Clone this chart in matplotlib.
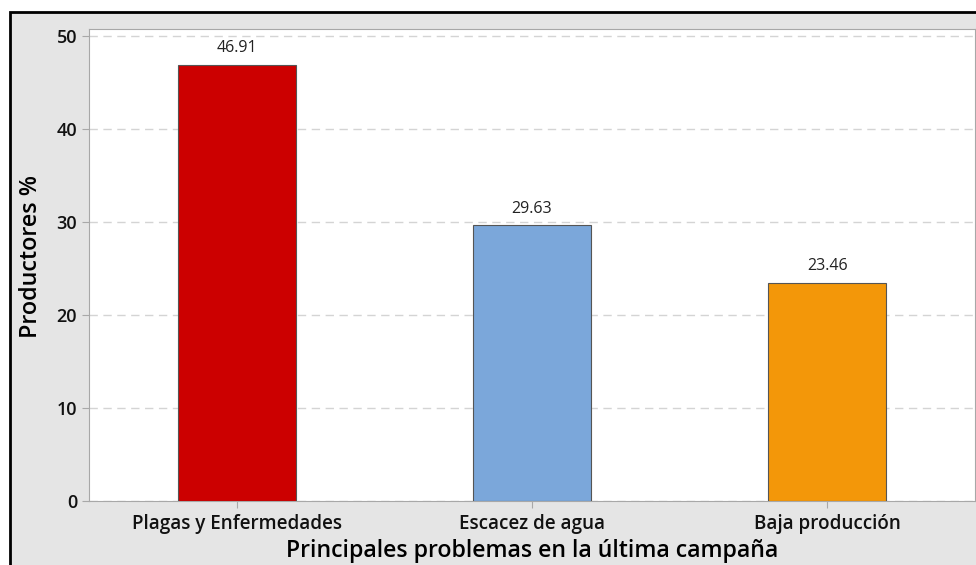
import matplotlib.pyplot as plt
from matplotlib.patches import Rectangle

categories = ["Plagas y Enfermedades", "Escacez de agua", "Baja producción"]
values = [46.91, 29.63, 23.46]
colors = ["#cc0000", "#7ba7da", "#f39709"]
yticks = [0, 10, 20, 30, 40, 50]

plt.rcParams['font.family'] = ['Open Sans', 'DejaVu Sans']

W, H = 976, 565
fig = plt.figure(figsize=(W / 100, H / 100), dpi=100)
fig.patch.set_facecolor("white")

# grey panel with black frame (cut off at right and bottom)
fig.patches.append(Rectangle((10 / W, -0.05), 1.1, 1 - 12 / H + 0.05,
                             transform=fig.transFigure, facecolor="#e5e5e5",
                             edgecolor="black", linewidth=2, zorder=-5))

ax = fig.add_axes([89 / W, 1 - 501 / H, (975 - 89) / W, (501 - 29) / H])
ax.set_facecolor("white")

x = range(len(categories))
bars = ax.bar(x, values, width=0.4, color=colors, edgecolor="#555555",
              linewidth=0.8, zorder=3)
for xi, v in zip(x, values):
    ax.text(xi, v + 0.9, f"{v:.2f}", ha="center", va="bottom", fontsize=11.5,
            color="#222222")

ax.set_xlim(-0.5, 2.5)
ax.set_ylim(0, 50.75)
ax.set_yticks(yticks)
ax.set_xticks(list(x))
ax.set_xticklabels(categories, fontsize=13.6, fontweight="semibold")
ax.set_yticklabels([str(t) for t in yticks], fontsize=13, fontweight="semibold")
ax.yaxis.grid(True, linestyle=(0, (6, 4)), color="#d4d4d4", linewidth=1, zorder=0)
ax.set_axisbelow(True)

for s in ax.spines.values():
    s.set_color("#a8a8a8")
ax.tick_params(axis="both", colors="#a8a8a8", labelcolor="#111111", length=5,
               width=0.8)
ax.tick_params(axis="x", pad=4)

ax.set_ylabel("Productores %", fontsize=16.8, fontweight="semibold")
ax.yaxis.set_label_coords(-0.052, 0.518)
ax.set_xlabel("Principales problemas en la última campaña", fontsize=16.7,
              fontweight="semibold", labelpad=4)

fig.savefig("out.png", dpi=100)
